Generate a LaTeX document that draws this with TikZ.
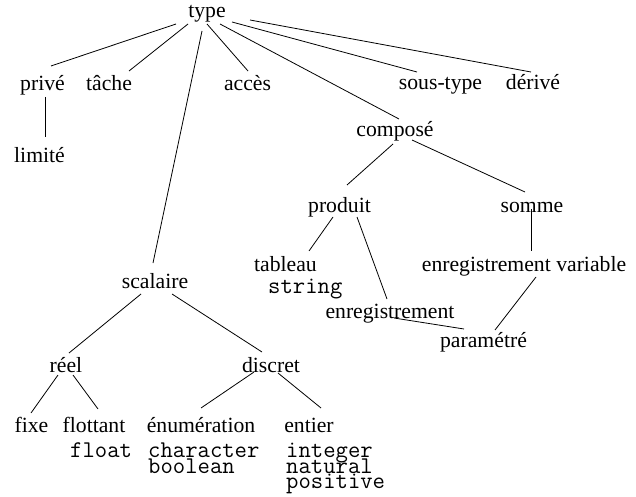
\documentclass[tikz,border=0pt]{standalone}
\usepackage{fontspec}
\setmainfont{Liberation Serif}
\begin{document}
\begin{tikzpicture}[x=1pt,y=-1pt,
  lbl/.style={inner sep=0pt,anchor=base,font=\fontsize{21.7}{26}\selectfont},
  code/.style={inner sep=0pt,anchor=base west,font=\fontsize{24}{16}\selectfont\ttfamily},
  link/.style={draw=black,line width=0.8pt}]
\useasboundingbox (0,0) rectangle (636,497);
% nodes
\node[lbl] (type) at (207,18) {type};
\node[lbl] (prive) at (42.5,91) {privé};
\node[lbl] (tache) at (109,91) {tâche};
\node[lbl] (acces) at (247.5,91) {accès};
\node[lbl] (soustype) at (440.5,90) {sous-type};
\node[lbl] (derive) at (533,90) {dérivé};
\node[lbl] (limite) at (39.5,162) {limité};
\node[lbl] (compose) at (395,137) {composé};
\node[lbl] (produit) at (339.5,212) {produit};
\node[lbl] (somme) at (532,212) {somme};
\node[lbl] (tableau) at (285.5,271) {tableau};
\node[code] (string) at (268,293) {string};
\node[lbl] (envar) at (524,271) {enregistrement variable};
\node[lbl] (enreg) at (390,318) {enregistrement};
\node[lbl] (param) at (483.5,347) {paramétré};
\node[lbl] (scalaire) at (155,288) {scalaire};
\node[lbl] (reel) at (66,372) {réel};
\node[lbl] (discret) at (271,372) {discret};
\node[lbl] (fixe) at (31.5,432) {fixe};
\node[lbl] (flottant) at (94,432) {flottant};
\node[code] (float) at (70,457) {float};
\node[lbl] (enum) at (201,432) {énumération};
\node[code] (character) at (148,457) {character};
\node[code] (boolean) at (148,473) {boolean};
\node[lbl] (entier) at (309,432) {entier};
\node[code] (integer) at (286,457) {integer};
\node[code] (natural) at (286,473) {natural};
\node[code] (positive) at (286,488) {positive};
% connectors
\draw[link] ([shift={(-31,6)}]type.base) -- ([shift={(8.5,-25)}]prive.base);
\draw[link] ([shift={(-19,6)}]type.base) -- ([shift={(20,-20)}]tache.base);
\draw[link] ([shift={(-5,13)}]type.base) -- ([shift={(-2,-25)}]scalaire.base);
\draw[link] ([shift={(0,6)}]type.base) -- ([shift={(0.5,-20)}]acces.base);
\draw[link] ([shift={(13,6)}]type.base) -- ([shift={(4,-18)}]compose.base);
\draw[link] ([shift={(25,4)}]type.base) -- ([shift={(-23.5,-18)}]soustype.base);
\draw[link] ([shift={(43,2)}]type.base) -- ([shift={(-2,-18)}]derive.base);
\draw[link] ([shift={(2.5,6)}]prive.base) -- ([shift={(5.5,-25)}]limite.base);
\draw[link] ([shift={(-2,7)}]compose.base) -- ([shift={(7.5,-27)}]produit.base);
\draw[link] ([shift={(17,3)}]compose.base) -- ([shift={(-7,-20)}]somme.base);
\draw[link] ([shift={(-6.5,5)}]produit.base) -- ([shift={(23.5,-20)}]tableau.base);
\draw[link] ([shift={(17.5,5)}]produit.base) -- ([shift={(-3,-19)}]enreg.base);
\draw[link] ([shift={(-1,-3)}]somme.base) -- ([shift={(7,-20)}]envar.base);
\draw[link] ([shift={(12,6)}]envar.base) -- ([shift={(11.5,-17)}]param.base);
\draw[link] ([shift={(4,0)}]enreg.base) -- ([shift={(-19.5,-18)}]param.base);
\draw[link] ([shift={(-14,6)}]scalaire.base) -- ([shift={(3,-19)}]reel.base);
\draw[link] ([shift={(17,6)}]scalaire.base) -- ([shift={(-9,-20)}]discret.base);
\draw[link] ([shift={(-8,3)}]reel.base) -- ([shift={(-0.5,-19)}]fixe.base);
\draw[link] ([shift={(7,3)}]reel.base) -- ([shift={(4,-23)}]flottant.base);
\draw[link] ([shift={(-17,0)}]discret.base) -- ([shift={(0,-24)}]enum.base);
\draw[link] ([shift={(7,1)}]discret.base) -- ([shift={(12,-24)}]entier.base);
\end{tikzpicture}
\end{document}
